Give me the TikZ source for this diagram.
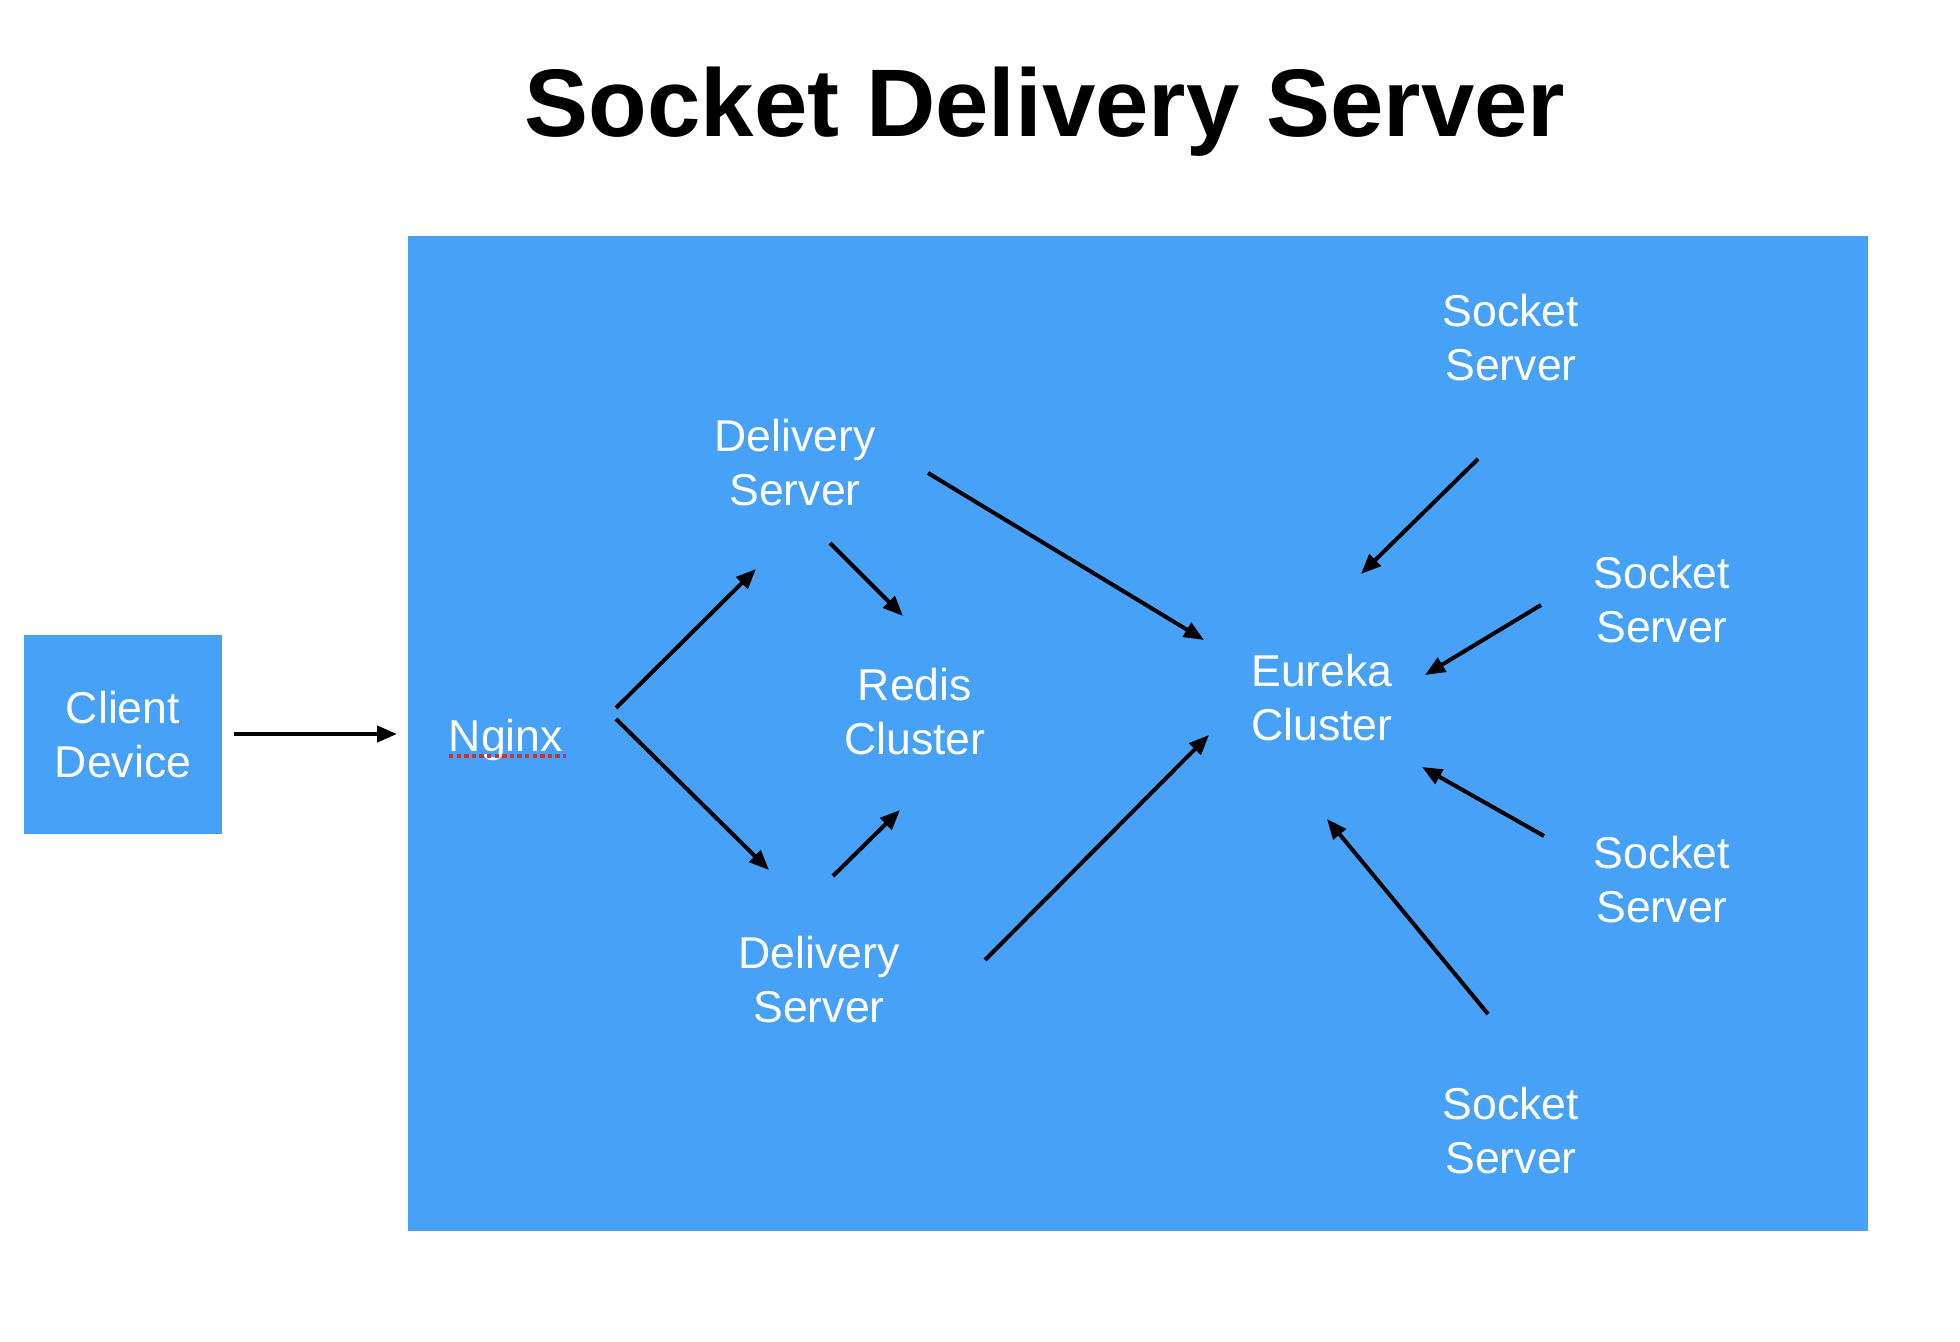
\documentclass[tikz,border=0pt]{standalone}
\usepackage{fontspec}
\setmainfont{Liberation Sans}
\usetikzlibrary{arrows.meta}
\definecolor{skyblue}{RGB}{71,161,246}
\definecolor{spellred}{RGB}{200,50,50}
\begin{document}
\begin{tikzpicture}[x=0.5pt,y=-0.5pt,
  lbl/.style={text=white,align=center,inner sep=0pt,font=\fontsize{22.3pt}{27pt}\selectfont},
  conn/.style={line width=2pt,-{Triangle[length=10pt,width=8pt]}},
  ttl/.style={font=\fontsize{48pt}{56pt}\selectfont\bfseries,inner sep=0pt}]
\useasboundingbox (0,0) rectangle (1960,1342);
\fill[white] (0,0) rectangle (1960,1342);
% title
\node[ttl,anchor=base] (title) at (1045,137) {Socket Delivery Server};
% main area
\fill[skyblue] (407.5,236) rectangle (1867.5,1231);
% client
\node[fill=skyblue,minimum width=99pt,minimum height=99.5pt,inner sep=0pt] (clientbox) at (123,734.5) {};
\node[lbl] (client) at (123,735) {Client\\Device};
% labels
\node[lbl] (nginx) at (506,740) {Nginx};
\draw[spellred,line width=1.8pt,dash pattern=on 2.2pt off 1.6pt] (449,756) -- (566,756);
\node[lbl] (ds1) at (795,463) {Delivery\\Server};
\node[lbl] (redis) at (915,712) {Redis\\Cluster};
\node[lbl] (ds2) at (819,980) {Delivery\\Server};
\node[lbl] (eureka) at (1322,698) {Eureka\\Cluster};
\node[lbl] (ss1) at (1511,338) {Socket\\Server};
\node[lbl] (ss2) at (1662,600) {Socket\\Server};
\node[lbl] (ss3) at (1662,880) {Socket\\Server};
\node[lbl] (ss4) at (1511,1131) {Socket\\Server};
% arrow end points
\coordinate (c-out) at (234,734);
\coordinate (n-in) at (397,734);
\coordinate (n-up) at (616,708);
\coordinate (d1-in) at (756,569);
\coordinate (n-dn) at (616,719);
\coordinate (d2-in) at (769,870);
\coordinate (d1-r) at (830,543);
\coordinate (r-top) at (903,616);
\coordinate (d2-r) at (833,876);
\coordinate (r-bot) at (900,810);
\coordinate (d1-e) at (928,473);
\coordinate (e-ul) at (1204,640);
\coordinate (d2-e) at (985,960);
\coordinate (e-ll) at (1209,735);
\coordinate (s1-out) at (1478,459);
\coordinate (e-t) at (1361,574);
\coordinate (s2-out) at (1541,605);
\coordinate (e-ur) at (1425,675);
\coordinate (s3-out) at (1544,836);
\coordinate (e-lr) at (1422,767);
\coordinate (s4-out) at (1488,1014);
\coordinate (e-b) at (1327,819);
% connectors
\draw[conn] (c-out) -- (n-in);
\draw[conn] (n-up) -- (d1-in);
\draw[conn] (n-dn) -- (d2-in);
\draw[conn] (d1-r) -- (r-top);
\draw[conn] (d2-r) -- (r-bot);
\draw[conn] (d1-e) -- (e-ul);
\draw[conn] (d2-e) -- (e-ll);
\draw[conn] (s1-out) -- (e-t);
\draw[conn] (s2-out) -- (e-ur);
\draw[conn] (s3-out) -- (e-lr);
\draw[conn] (s4-out) -- (e-b);
\end{tikzpicture}
\end{document}
